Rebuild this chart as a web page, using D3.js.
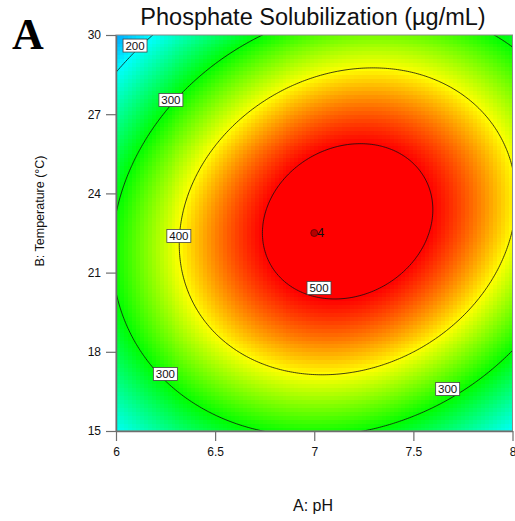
<!DOCTYPE html>
<html>
<head>
<meta charset="utf-8">
<script src="https://cdn.jsdelivr.net/npm/d3@7"></script>
<style>
  body { margin: 0; background: #fff; }
  text { font-family: "Liberation Sans", Arial, sans-serif; }
</style>
</head>
<body>
<div id="chart"></div>
<script>
// Data
// =========================

// fitted model for ln(phosphate), coded factors: A = (pH - 7), B = (T - 22.5) / 7.5
var modelTerms = ["Intercept", "A", "B", "AB", "A^2", "B^2"];
var lnCoefficients = [6.279, 0.135, 0.0367, 0.14, -0.4255, -0.511];

var phRange = [6, 8];
var tempRange = [15, 30];
var phTicks = [6, 6.5, 7, 7.5, 8];
var tempTicks = [15, 18, 21, 24, 27, 30];
var contourLevels = [200, 300, 400, 500];

// contour labels (value, pH, temperature)
var labelLevels = [200, 300, 400, 500, 300, 300];
var labelPh = [6.096, 6.277, 6.317, 7.024, 6.249, 7.673];
var labelTemp = [29.6, 27.54, 22.39, 20.42, 17.16, 16.59];

// design points shown on the plot
var pointPh = [7];
var pointTemp = [22.5];
var pointCount = [4];

// Model
// =====
function predict(ph, temp) {
    var a = ph - 7;
    var b = (temp - 22.5) / 7.5;
    var c = lnCoefficients;
    return Math.exp(c[0] + c[1] * a + c[2] * b + c[3] * a * b + c[4] * a * a + c[5] * b * b);
}

// Set up the chart
// ================
var svgWidth = 515;
var svgHeight = 521;

var plotLeft = 116, plotRight = 512.5, plotTop = 35, plotBottom = 431;

var svg = d3.select("#chart")
    .append("svg")
    .attr("width", svgWidth)
    .attr("height", svgHeight);

var xScale = d3.scaleLinear().domain(phRange).range([plotLeft, plotRight]);
var yScale = d3.scaleLinear().domain(tempRange).range([plotBottom, plotTop]);

var colorScale = d3.scaleLinear()
    .domain([100, 200, 300, 400, 500])
    .range(["#0000ff", "#00ffff", "#00ff00", "#ffff00", "#ff0000"])
    .clamp(true);

svg.append("clipPath")
    .attr("id", "plot-clip")
    .append("rect")
    .attr("x", plotLeft)
    .attr("y", plotTop)
    .attr("width", plotRight - plotLeft)
    .attr("height", plotBottom - plotTop);

// Heat map cells
// ==============
var nCells = 100;
var phStep = (phRange[1] - phRange[0]) / nCells;
var tempStep = (tempRange[1] - tempRange[0]) / nCells;
var cells = [];
for (var j = 0; j < nCells; j++) {
    for (var i = 0; i < nCells; i++) {
        var ph0 = phRange[0] + i * phStep;
        var t0 = tempRange[0] + j * tempStep;
        cells.push({
            ph0: ph0, t0: t0,
            value: predict(ph0 + phStep / 2, t0 + tempStep / 2)
        });
    }
}

svg.append("g")
    .attr("clip-path", "url(#plot-clip)")
    .attr("shape-rendering", "crispEdges")
    .selectAll("rect")
    .data(cells)
    .enter()
    .append("rect")
    .attr("x", d => xScale(d.ph0))
    .attr("y", d => yScale(d.t0 + tempStep))
    .attr("width", xScale(phStep) - xScale(0) + 0.6)
    .attr("height", yScale(0) - yScale(tempStep) + 0.6)
    .attr("fill", d => colorScale(d.value));

// Contour lines
// =============
var gPhStart = 5.9, gPhStep = 0.01, gNx = 221;
var gTStart = 14.6, gTStep = 0.075, gNy = 217;
var gridValues = new Array(gNx * gNy);
for (var gj = 0; gj < gNy; gj++) {
    for (var gi = 0; gi < gNx; gi++) {
        gridValues[gi + gj * gNx] = predict(gPhStart + gi * gPhStep, gTStart + gj * gTStep);
    }
}

var contours = d3.contours()
    .size([gNx, gNy])
    .thresholds(contourLevels)(gridValues);

var gridToPixel = d3.geoTransform({
    point: function(px, py) {
        this.stream.point(
            xScale(gPhStart + (px - 0.5) * gPhStep),
            yScale(gTStart + (py - 0.5) * gTStep)
        );
    }
});

svg.append("g")
    .attr("clip-path", "url(#plot-clip)")
    .selectAll("path")
    .data(contours)
    .enter()
    .append("path")
    .attr("d", d3.geoPath(gridToPixel))
    .attr("fill", "none")
    .attr("stroke", "#111")
    .attr("stroke-width", 0.8);

// Plot frame
svg.append("rect")
    .attr("x", plotLeft)
    .attr("y", plotTop)
    .attr("width", plotRight - plotLeft)
    .attr("height", plotBottom - plotTop)
    .attr("fill", "none")
    .attr("stroke", "#8a8a8a")
    .attr("stroke-width", 1);

// Axes
// ====
var leftAxis = d3.axisLeft(yScale)
    .tickValues(tempTicks)
    .tickFormat(d => String(d))
    .tickSize(10)
    .tickSizeOuter(0)
    .tickPadding(5);

var bottomAxis = d3.axisBottom(xScale)
    .tickValues(phTicks)
    .tickFormat(d => String(d))
    .tickSize(10)
    .tickSizeOuter(0)
    .tickPadding(6);

var yAxis = svg.append("g")
    .attr("transform", `translate(${plotLeft}, 0)`)
    .call(leftAxis);

var xAxis = svg.append("g")
    .attr("transform", `translate(0, ${plotBottom})`)
    .call(bottomAxis);

[xAxis, yAxis].forEach(ax => {
    ax.select(".domain").attr("stroke", "#6e6e6e").attr("stroke-width", 1.5);
    ax.selectAll(".tick line").attr("stroke", "#6e6e6e").attr("stroke-width", 1.2);
    ax.selectAll(".tick text")
        .attr("fill", "#111")
        .style("font-family", '"Liberation Sans", Arial, sans-serif')
        .style("font-size", "12px");
});

// Contour labels
// ==============
var labelGroups = svg.append("g")
    .selectAll("g")
    .data(labelLevels.map((v, k) => ({ value: v, ph: labelPh[k], temp: labelTemp[k] })))
    .enter()
    .append("g")
    .attr("transform", d => `translate(${xScale(d.ph)}, ${yScale(d.temp)})`);

labelGroups.append("rect")
    .attr("x", -12)
    .attr("y", -6.5)
    .attr("width", 24)
    .attr("height", 13)
    .attr("fill", "#fff")
    .attr("stroke", "#444")
    .attr("stroke-width", 0.8);

labelGroups.append("text")
    .attr("text-anchor", "middle")
    .attr("dy", "0.36em")
    .style("font-size", "11.5px")
    .attr("fill", "#111")
    .text(d => d.value);

// Design points
// =============
var points = svg.append("g")
    .selectAll("g")
    .data(pointPh.map((p, k) => ({ ph: p, temp: pointTemp[k], count: pointCount[k] })))
    .enter()
    .append("g")
    .attr("transform", d => `translate(${xScale(d.ph)}, ${yScale(d.temp)})`);

points.append("circle")
    .attr("r", 3.5)
    .attr("fill", "#b40000")
    .attr("stroke", "#5a0000")
    .attr("stroke-width", 0.8);

points.append("text")
    .attr("x", 3)
    .attr("y", 4)
    .style("font-size", "12.5px")
    .attr("fill", "#111")
    .text(d => d.count);

// Titles
// ======
svg.append("text")
    .attr("x", 313)
    .attr("y", 25)
    .attr("text-anchor", "middle")
    .style("font-size", "23.5px")
    .attr("fill", "#111")
    .text("Phosphate Solubilization (µg/mL)");

svg.append("text")
    .attr("x", 12)
    .attr("y", 49)
    .style("font-family", '"Liberation Serif", "Times New Roman", serif')
    .style("font-weight", "bold")
    .style("font-size", "44px")
    .attr("fill", "#000")
    .text("A");

svg.append("text")
    .attr("x", 313)
    .attr("y", 511)
    .attr("text-anchor", "middle")
    .style("font-size", "16px")
    .attr("fill", "#111")
    .text("A: pH");

svg.append("text")
    .attr("transform", "translate(44, 211) rotate(-90)")
    .attr("text-anchor", "middle")
    .style("font-size", "12.5px")
    .attr("fill", "#111")
    .text("B: Temperature (°C)");
</script>
</body>
</html>
